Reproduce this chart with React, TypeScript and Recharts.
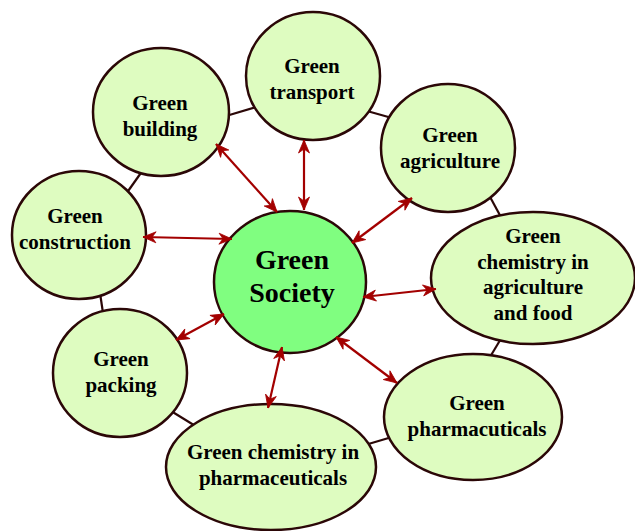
import React from 'react';
import { ScatterChart, Scatter, XAxis, YAxis } from 'recharts';

const W = 635;
const H = 531;

// outer nodes, clockwise from "building"
const nodeLabels = [
  ['Green', 'building'],
  ['Green', 'transport'],
  ['Green', 'agriculture'],
  ['Green', 'chemistry in', 'agriculture', 'and food'],
  ['Green', 'pharmacuticals'],
  ['Green chemistry in', 'pharmaceuticals'],
  ['Green', 'packing'],
  ['Green', 'construction'],
];
const nodeX = [161, 313, 448, 533, 473, 271, 120, 79];
const nodeY = [112, 76, 148, 278, 417, 467, 373, 235];
const nodeRx = [68, 67, 67, 102, 89, 105, 67, 67];
const nodeRy = [64, 64, 64, 66, 63, 63, 64, 64];
const labelX = [160, 312, 450, 533, 477, 273, 121, 75];
const labelBaseline = [110, 73, 142, 243, 410, 459, 366, 223];

const hubLabels = ['Green', 'Society'];
const hub = { x: 290, y: 282, rx: 76, ry: 71, lx: 292, ly: 269 };

// ring links between neighbouring nodes (visible parts)
const ringLinks = [
  [126, 194, 143, 170],
  [226, 116, 256, 107],
  [367, 111, 392, 118],
  [489, 195, 502, 219],
  [502, 337, 490, 357],
  [392, 437, 365, 445],
  [171, 411, 197, 427],
  [100, 293, 103, 313],
];

// double arrows between hub and each node: outer tip, inner tip
const arrowLinks = [
  [216, 144, 277, 212],
  [304, 140, 304, 210],
  [412, 198, 352, 243],
  [436, 289, 363, 297],
  [397, 383, 336, 337],
  [268, 408, 282, 347],
  [176, 340, 224, 314],
  [143, 237, 232, 239],
];

const EDGE = '#2b0707';
const ARROW = '#a30000';
const NODE_FILL = '#defcc0';
const HUB_FILL = '#80fe80';
const FONT = '"Liberation Serif", "Times New Roman", serif';

const nodes = nodeLabels.map((lines, i) => ({
  x: nodeX[i],
  y: nodeY[i],
  rx: nodeRx[i],
  ry: nodeRy[i],
  lx: labelX[i],
  ly: labelBaseline[i],
  lines,
}));

const renderNode = (size: number, gap: number, fill: string) => (props: any) => {
  const { cx, cy, payload } = props;
  const dx = payload.lx - payload.x;
  const dy = payload.ly - payload.y;
  return (
    <g>
      <ellipse cx={cx} cy={cy} rx={payload.rx} ry={payload.ry} fill={fill} stroke={EDGE} strokeWidth={2.5} />
      {payload.lines.map((t: string, i: number) => (
        <text
          key={i}
          x={cx + dx}
          y={cy + dy + i * gap}
          textAnchor="middle"
          fontFamily={FONT}
          fontWeight="bold"
          fontSize={size}
          fill="#000"
        >
          {t}
        </text>
      ))}
    </g>
  );
};

// arrow head with its tip on the point, pointing away from the other end
const renderHead = (props: any) => {
  const { cx, cy, payload } = props;
  const a = (Math.atan2(payload.y - payload.fy, payload.x - payload.fx) * 180) / Math.PI;
  return (
    <polygon
      points="0,0 -13,-5.5 -9,0 -13,5.5"
      fill={ARROW}
      stroke={ARROW}
      strokeWidth={0.8}
      strokeLinejoin="miter"
      transform={`translate(${cx},${cy}) rotate(${a})`}
    />
  );
};

const noShape = () => <g />;

export default function App() {
  return (
    <div style={{ position: 'absolute', left: 0, top: 0, background: '#fff' }}>
      <ScatterChart width={W} height={H} margin={{ top: 0, right: 0, bottom: 0, left: 0 }}>
        <XAxis type="number" dataKey="x" domain={[0, W]} hide allowDataOverflow />
        <YAxis type="number" dataKey="y" domain={[0, H]} reversed hide allowDataOverflow />

        {ringLinks.map((l, i) => (
          <Scatter
            key={`ring-${i}`}
            data={[{ x: l[0], y: l[1] }, { x: l[2], y: l[3] }]}
            line={{ stroke: EDGE, strokeWidth: 2.2 }}
            shape={noShape}
            isAnimationActive={false}
          />
        ))}

        <Scatter data={nodes} shape={renderNode(21, 25.5, NODE_FILL)} isAnimationActive={false} />
        <Scatter
          data={[{ ...hub, lines: hubLabels }]}
          shape={renderNode(28, 33, HUB_FILL)}
          isAnimationActive={false}
        />

        {arrowLinks.map((l, i) => (
          <Scatter
            key={`arrow-${i}`}
            data={[
              { x: l[0], y: l[1], fx: l[2], fy: l[3] },
              { x: l[2], y: l[3], fx: l[0], fy: l[1] },
            ]}
            line={{ stroke: ARROW, strokeWidth: 2.2 }}
            shape={renderHead}
            isAnimationActive={false}
          />
        ))}
      </ScatterChart>
    </div>
  );
}
